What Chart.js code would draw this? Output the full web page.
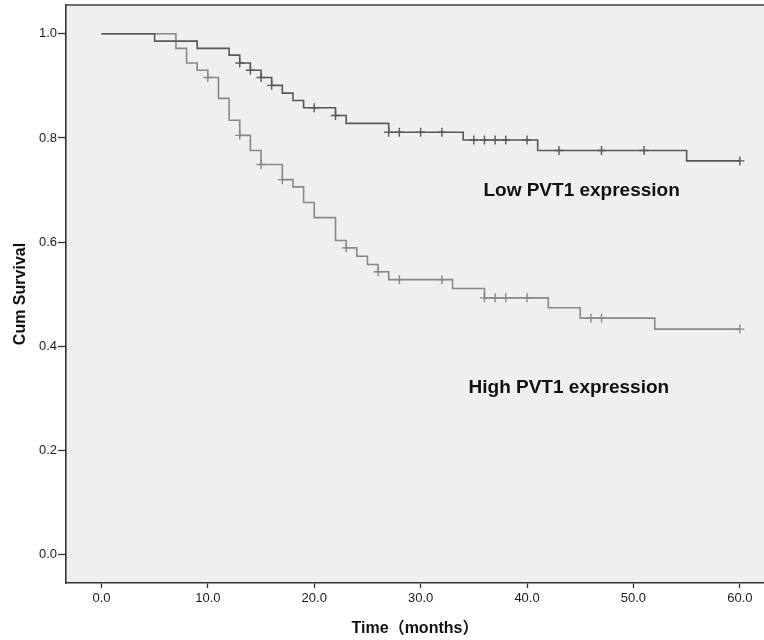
<!DOCTYPE html>
<html>
<head>
<meta charset="utf-8">
<script src="https://cdn.jsdelivr.net/npm/chart.js@4.4.1/dist/chart.umd.min.js"></script>
<style>
  html, body { margin: 0; padding: 0; background: #fff; }
  #wrap { width: 764px; height: 640px; }
</style>
</head>
<body>
<div id="wrap"><canvas id="kmChart" width="764" height="640"></canvas></div>
<script>
// DADOS

const lowTimes = [0, 5, 9, 12, 13, 14, 15, 16, 17, 18, 19, 22, 23, 27, 34, 41, 55, 60];
const lowSurv  = [1.0, 0.986, 0.972, 0.959, 0.944, 0.930, 0.916, 0.901, 0.886, 0.872, 0.858, 0.843, 0.828, 0.811, 0.796, 0.776, 0.756, 0.756];
const lowCensored = [13, 14, 15, 16, 20, 22, 27, 28, 30, 32, 35, 36, 37, 38, 40, 43, 47, 51, 60];

const highTimes = [0, 7, 8, 9, 10, 11, 12, 13, 14, 15, 17, 18, 19, 20, 22, 23, 24, 25, 26, 27, 33, 36, 42, 45, 52, 60];
const highSurv  = [1.0, 0.972, 0.944, 0.930, 0.916, 0.876, 0.834, 0.805, 0.776, 0.749, 0.720, 0.706, 0.676, 0.647, 0.603, 0.589, 0.573, 0.557, 0.543, 0.528, 0.511, 0.493, 0.474, 0.454, 0.433, 0.433];
const highCensored = [10, 13, 15, 17, 23, 26, 28, 32, 36, 37, 38, 40, 46, 47, 60];

const xTicks = [0, 10, 20, 30, 40, 50, 60];
const yTicks = [0.0, 0.2, 0.4, 0.6, 0.8, 1.0];

const lowLabel = 'Low PVT1 expression';
const highLabel = 'High PVT1 expression';

// valor da curva no tempo t
function survAt(times, surv, t) {
    let s = surv[0];
    for (let i = 0; i < times.length; i++) {
        if (times[i] <= t) s = surv[i];
    }
    return s;
}

function toPoints(times, surv) {
    return times.map((t, i) => ({ x: t, y: surv[i] }));
}

function censorPoints(list, times, surv) {
    return list.map(t => ({ x: t, y: survAt(times, surv, t) }));
}

const lowColor = '#585858';
const highColor = '#888888';
const tickFont = { size: 13, family: '"Liberation Sans", Arial, sans-serif' };

// fundo cinza da área do gráfico
const plotBackground = {
    id: 'plotBackground',
    beforeDraw(chart) {
        const { ctx, chartArea } = chart;
        ctx.save();
        ctx.fillStyle = '#efefef';
        ctx.fillRect(chartArea.left, chartArea.top, chartArea.right - chartArea.left, chartArea.bottom - chartArea.top);
        ctx.strokeStyle = '#6e6e6e';
        ctx.lineWidth = 2;
        ctx.beginPath();
        ctx.moveTo(chartArea.left, chartArea.top);
        ctx.lineTo(chartArea.right, chartArea.top);
        ctx.stroke();
        ctx.restore();
    }
};

// textos dentro do gráfico
const curveLabels = {
    id: 'curveLabels',
    afterDatasetsDraw(chart) {
        const { ctx, scales } = chart;
        ctx.save();
        ctx.font = 'bold 19px "Liberation Sans", Arial, sans-serif';
        ctx.fillStyle = '#111';
        ctx.textAlign = 'left';
        ctx.textBaseline = 'middle';
        ctx.fillText(lowLabel, scales.x.getPixelForValue(35.9), scales.y.getPixelForValue(0.698));
        ctx.fillText(highLabel, scales.x.getPixelForValue(34.5), scales.y.getPixelForValue(0.321));
        ctx.restore();
    }
};

const ctx = document.getElementById('kmChart').getContext('2d');
const kmChart = new Chart(ctx, {
    type: 'scatter',
    data: {
        datasets: [
        {
            data: censorPoints(lowCensored, lowTimes, lowSurv),
            pointStyle: 'cross',
            pointRadius: 4.5,
            borderColor: lowColor,
            borderWidth: 1.4,
            showLine: false
        },
        {
            data: censorPoints(highCensored, highTimes, highSurv),
            pointStyle: 'cross',
            pointRadius: 4.5,
            borderColor: highColor,
            borderWidth: 1.4,
            showLine: false
        },
        {
            data: toPoints(lowTimes, lowSurv),
            showLine: true,
            stepped: true,
            borderColor: lowColor,
            borderWidth: 1.6,
            pointRadius: 0,
            fill: false
        },
        {
            data: toPoints(highTimes, highSurv),
            showLine: true,
            stepped: true,
            borderColor: highColor,
            borderWidth: 1.6,
            pointRadius: 0,
            fill: false
        }
        ]
    },
    options: {
        responsive: false,
        animation: false,
        layout: { autoPadding: false, padding: { top: 5, right: 0, left: 0, bottom: 0 } },
        plugins: {
            legend: { display: false },
            tooltip: { enabled: false }
        },
        scales: {
            x: {
                type: 'linear',
                min: -3.33,
                max: 62.27,
                afterFit(scale) {
                    scale.height = 57;
                    scale.paddingLeft = 0;
                    scale.paddingRight = 0;
                },
                afterBuildTicks(scale) { scale.ticks = xTicks.map(v => ({ value: v })); },
                ticks: {
                    color: '#1a1a1a',
                    font: tickFont,
                    padding: 3,
                    maxRotation: 0,
                    callback: v => v.toFixed(1)
                },
                grid: {
                    display: true,
                    drawOnChartArea: false,
                    drawTicks: true,
                    tickLength: 5,
                    tickColor: '#333',
                    tickWidth: 1.3
                },
                border: { display: true, color: '#333', width: 1.6 },
                title: {
                    display: true,
                    text: 'Time（months）',
                    color: '#111',
                    font: { size: 16, weight: 'bold', family: '"Liberation Sans", Arial, "Noto Sans CJK SC", sans-serif' },
                    padding: { top: 0, bottom: 1.5 }
                }
            },
            y: {
                type: 'linear',
                min: -0.0545,
                max: 1.0553,
                afterFit(scale) {
                    scale.width = 66;
                    scale.paddingTop = 0;
                    scale.paddingBottom = 0;
                },
                afterBuildTicks(scale) { scale.ticks = yTicks.map(v => ({ value: v })); },
                ticks: {
                    color: '#1a1a1a',
                    font: tickFont,
                    padding: 1,
                    callback: v => v.toFixed(1)
                },
                grid: {
                    display: true,
                    drawOnChartArea: false,
                    drawTicks: true,
                    tickLength: 8,
                    tickColor: '#333',
                    tickWidth: 1.3
                },
                border: { display: true, color: '#333', width: 1.6 },
                title: {
                    display: true,
                    text: 'Cum Survival',
                    color: '#111',
                    font: { size: 16, weight: 'bold', family: '"Liberation Sans", Arial, sans-serif' },
                    padding: { top: 10.5, bottom: 0 }
                }
            }
        }
    },
    plugins: [plotBackground, curveLabels]
});
</script>
</body>
</html>
